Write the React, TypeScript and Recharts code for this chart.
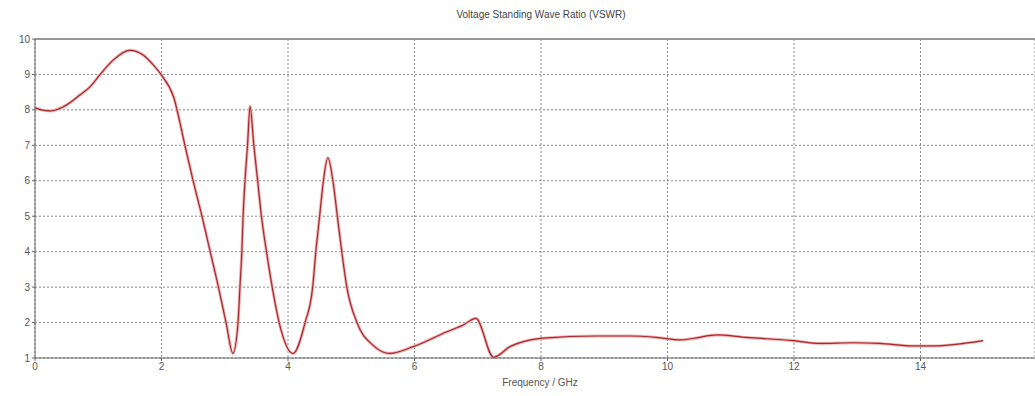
import { LineChart, Line, XAxis, YAxis, CartesianGrid, ReferenceLine } from 'recharts';

const freqs = [
  0, 0.1, 0.24, 0.45, 0.71, 0.87, 1.03, 1.24, 1.5, 1.71, 1.87, 2.0, 2.19, 2.37, 2.5, 2.64, 2.77, 2.9, 3.02, 3.13,
  3.21, 3.24, 3.27, 3.29, 3.32, 3.36, 3.4, 3.46, 3.52, 3.58, 3.66, 3.75, 3.86, 4.08,
  4.27, 4.39, 4.44, 4.5, 4.56, 4.63, 4.71, 4.78, 4.85, 4.93, 5.09, 5.35, 5.61, 5.98, 6.51, 6.77, 6.97,
  7.25, 7.51, 7.83, 8.03, 8.88, 9.41, 9.83, 10.2, 10.4, 10.78, 11.25, 11.99, 12.41, 12.94, 13.36, 13.89,
  14.2, 14.68, 14.99,
];

const vswr = [
  8.06, 8.0, 7.97, 8.09, 8.42, 8.65, 9.0, 9.41, 9.68, 9.55, 9.27, 8.98, 8.37, 7.0, 6.0, 5.0, 4.0, 3.0, 2.0, 1.13,
  2.0, 3.0, 4.0, 5.0, 6.0, 7.0, 8.1, 7.0, 6.0, 5.0, 4.0, 3.0, 2.0, 1.13,
  2.0, 3.0, 4.0, 5.0, 6.0, 6.65, 6.0, 5.0, 4.0, 3.0, 2.0, 1.35, 1.13, 1.32, 1.74, 1.93, 2.12,
  1.02, 1.32, 1.51, 1.56, 1.62, 1.62, 1.58, 1.51, 1.55, 1.65, 1.58, 1.49, 1.41, 1.43, 1.41, 1.34,
  1.34, 1.41, 1.49,
];

const xTicks = [0, 2, 4, 6, 8, 10, 12, 14];
const yTicks = [1, 2, 3, 4, 5, 6, 7, 8, 9, 10];

const data = freqs.map((f, i) => ({ f, v: vswr[i] }));

const tickStyle = { fontSize: 10, fill: '#555', fontFamily: 'Liberation Sans, Arial, sans-serif' };

export default function App() {
  return (
    <div style={{ position: 'absolute', left: 0, top: 0, width: 1035, height: 396, background: '#fff' }}>
      <div
        style={{
          position: 'absolute', top: 9, left: 0, width: 1082, textAlign: 'center',
          fontSize: 10, color: '#444', fontFamily: 'Liberation Sans, Arial, sans-serif',
        }}
      >
        Voltage Standing Wave Ratio (VSWR)
      </div>
      <LineChart width={1035} height={396} data={data} margin={{ top: 39, right: 0, bottom: 8, left: 0 }}>
        <CartesianGrid stroke="#8a8a8a" strokeDasharray="2 2" />
        <XAxis
          dataKey="f"
          type="number"
          domain={[0, 15.81]}
          ticks={xTicks}
          height={30}
          tick={tickStyle}
          tickSize={3}
          stroke="#666"
          allowDataOverflow
          label={{ value: 'Frequency / GHz', position: 'insideBottom', offset: 2, dx: 5, style: tickStyle }}
        />
        <YAxis
          type="number"
          domain={[1, 10]}
          ticks={yTicks}
          width={35}
          tick={tickStyle}
          tickSize={3}
          stroke="#666"
        />
        <ReferenceLine y={10} stroke="#999" strokeWidth={2} />
        <Line dataKey="v" type="monotone" stroke="#eeb0b0" strokeWidth={3} dot={false} isAnimationActive={false} />
        <Line dataKey="v" type="monotone" stroke="#a8282c" strokeWidth={1.2} dot={false} isAnimationActive={false} />
      </LineChart>
    </div>
  );
}
